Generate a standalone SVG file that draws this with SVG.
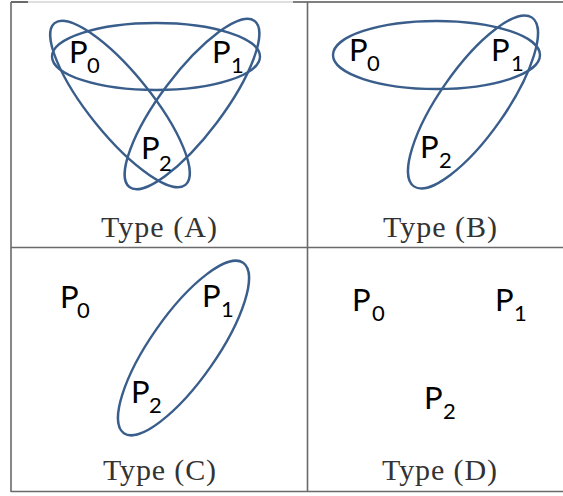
<svg xmlns="http://www.w3.org/2000/svg" width="563" height="496" viewBox="0 0 563 496">
<style>
.grid{stroke:#6a6a6a;stroke-width:1.6;fill:none}
.ell{fill:none;stroke:#3a5e8c;stroke-width:2.4}
.p{font-family:Lato,"Open Sans","Liberation Sans",sans-serif;font-size:31px;fill:#000}
.s{font-size:22px}
.t{font-family:"Liberation Serif","DejaVu Serif",serif;font-size:30px;fill:#333;text-anchor:middle}
</style>
<rect width="563" height="496" fill="#fff"/>
<g id="grid">
<line class="grid" x1="11" y1="2" x2="28" y2="2" style="stroke:#444"/>
<line class="grid" x1="28" y1="2" x2="293" y2="2" style="stroke:#d4d4d4"/>
<line class="grid" x1="293" y1="2" x2="563" y2="2" style="stroke:#555"/>
<line class="grid" x1="11" y1="2" x2="11" y2="492"/>
<line class="grid" x1="307.5" y1="2" x2="307.5" y2="492"/>
<line class="grid" x1="11" y1="247.5" x2="563" y2="247.5"/>
<line class="grid" x1="11" y1="491.5" x2="563" y2="491.5"/>
</g>
<g id="panelA">
<ellipse class="ell" cx="156" cy="56.5" rx="104" ry="33.5"/>
<ellipse class="ell" cx="0" cy="0" rx="104" ry="31" transform="translate(120 104) rotate(51)"/>
<ellipse class="ell" cx="0" cy="0" rx="104" ry="31" transform="translate(192 104) rotate(-53)"/>
<text class="p" x="69" y="63">P<tspan class="s" x="87" y="73">0</tspan></text>
<text class="p" x="212" y="63">P<tspan class="s" x="231" y="73">1</tspan></text>
<text class="p" x="141" y="159">P<tspan class="s" x="159" y="171">2</tspan></text>
<text class="t" x="159" y="237" textLength="116" lengthAdjust="spacing">Type (A)</text>
</g>
<g id="panelB">
<ellipse class="ell" cx="436.5" cy="55" rx="103.5" ry="34"/>
<ellipse class="ell" cx="0" cy="0" rx="103" ry="33" transform="translate(473 102) rotate(-55)"/>
<text class="p" x="349" y="61">P<tspan class="s" x="367" y="71">0</tspan></text>
<text class="p" x="491" y="61">P<tspan class="s" x="511" y="71">1</tspan></text>
<text class="p" x="420" y="158">P<tspan class="s" x="439" y="168">2</tspan></text>
<text class="t" x="440" y="237" textLength="114" lengthAdjust="spacing">Type (B)</text>
</g>
<g id="panelC">
<ellipse class="ell" cx="0" cy="0" rx="104" ry="33" transform="translate(183.5 348) rotate(-55)"/>
<text class="p" x="60" y="308">P<tspan class="s" x="77" y="318">0</tspan></text>
<text class="p" x="202" y="307">P<tspan class="s" x="221" y="317">1</tspan></text>
<text class="p" x="131" y="403">P<tspan class="s" x="149" y="413">2</tspan></text>
<text class="t" x="159.5" y="480" textLength="113" lengthAdjust="spacing">Type (C)</text>
</g>
<g id="panelD">
<text class="p" x="352" y="311">P<tspan class="s" x="372" y="321">0</tspan></text>
<text class="p" x="495" y="311">P<tspan class="s" x="514" y="321">1</tspan></text>
<text class="p" x="424" y="409">P<tspan class="s" x="443" y="419">2</tspan></text>
<text class="t" x="439.5" y="480" textLength="115" lengthAdjust="spacing">Type (D)</text>
</g>
</svg>
